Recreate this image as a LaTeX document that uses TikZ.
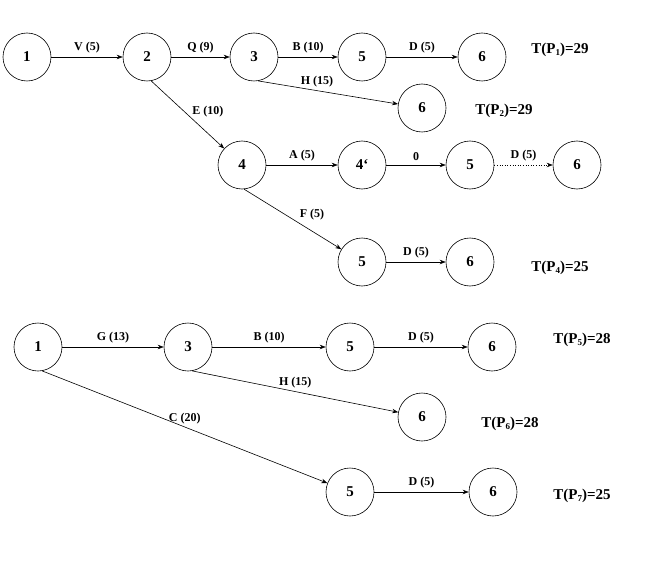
\documentclass[tikz,border=0pt]{standalone}
\usepackage{fontspec}
\setmainfont{Liberation Serif}
\usetikzlibrary{arrows.meta}

\newcommand{\psub}[1]{\raisebox{-1.5pt}{\fontsize{9}{9}\selectfont #1}}

\begin{document}
\begin{tikzpicture}[
  x=1pt, y=-1pt,
  >={Stealth[length=6pt,width=4.5pt]},
  event/.style={
    draw,
    circle,
    line width=0.6pt,
    minimum size=48pt,
    inner sep=0pt,
    font=\fontsize{15}{15}\selectfont\bfseries
  },
  arrow/.style={->, line width=0.6pt},
  lbl/.style={font=\fontsize{12}{12}\selectfont\bfseries, inner sep=2pt},
  total/.style={font=\fontsize{15}{15}\selectfont\bfseries}
]
\useasboundingbox (0,0) rectangle (663,564);

% upper network
\node[event] (a1) at (27,57) {1};
\node[event] (a2) at (147,57) {2};
\node[event] (a3) at (254,57) {3};
\node[event] (a5) at (362,57) {5};
\node[event] (a6) at (482,57) {6};
\node[event] (b6) at (422,108) {6};
\node[event] (c4) at (242,165) {4};
\node[event] (c4p) at (362,165) {4`};
\node[event] (c5) at (470,165) {5};
\node[event] (c6) at (577,165) {6};
\node[event] (d5) at (362,262) {5};
\node[event] (d6) at (470,262) {6};

\draw[arrow] (a1) -- node[lbl, above=2pt] {V (5)} (a2);
\draw[arrow] (a2) -- node[lbl, above=2pt] {Q (9)} (a3);
\draw[arrow] (a3) -- node[lbl, above=2pt] {B (10)} (a5);
\draw[arrow] (a5) -- node[lbl, above=2pt] {D (5)} (a6);
\draw[arrow] (a3.-80) -- node[lbl, pos=0.42, above=1pt] {H (15)} (b6);
\draw[arrow] (a2.-80) -- node[lbl, pos=0.45, right=6pt] {E (10)} (c4);
\draw[arrow] (c4) -- node[lbl, above=2pt] {A (5)} (c4p);
\draw[arrow] (c4p) -- node[lbl, above=2pt] {0} (c5);
\draw[arrow, dotted] (c5) -- node[lbl, above=2pt] {D (5)} (c6);
\draw[arrow] (c4.-85) -- node[lbl, pos=0.55, above right=0pt] {F (5)} (d5);
\draw[arrow] (d5) -- node[lbl, above=2pt] {D (5)} (d6);

\node[total] (t1) at (560,50) {T(P\psub{1})=29};
\node[total] (t2) at (504,111) {T(P\psub{2})=29};
\node[total] (t4) at (560,268) {T(P\psub{4})=25};

% lower network
\node[event] (e1) at (38,347) {1};
\node[event] (e3) at (188,347) {3};
\node[event] (e5) at (350,347) {5};
\node[event] (e6) at (492,347) {6};
\node[event] (f6) at (422,417) {6};
\node[event] (g5) at (350,492) {5};
\node[event] (g6) at (493,492) {6};

\draw[arrow] (e1) -- node[lbl, above=2pt] {G (13)} (e3);
\draw[arrow] (e3) -- node[lbl, above=2pt] {B (10)} (e5);
\draw[arrow] (e5) -- node[lbl, above=2pt] {D (5)} (e6);
\draw[arrow] (e3.-80) -- node[lbl, pos=0.5, above=1pt] {H (15)} (f6);
\draw[arrow] (e1.-80) -- node[lbl, pos=0.5, above=1pt] {C (20)} (g5);
\draw[arrow] (g5) -- node[lbl, above=2pt] {D (5)} (g6);

\node[total] (t5) at (582,340) {T(P\psub{5})=28};
\node[total] (t6) at (510,424) {T(P\psub{6})=28};
\node[total] (t7) at (582,496) {T(P\psub{7})=25};

\end{tikzpicture}
\end{document}
